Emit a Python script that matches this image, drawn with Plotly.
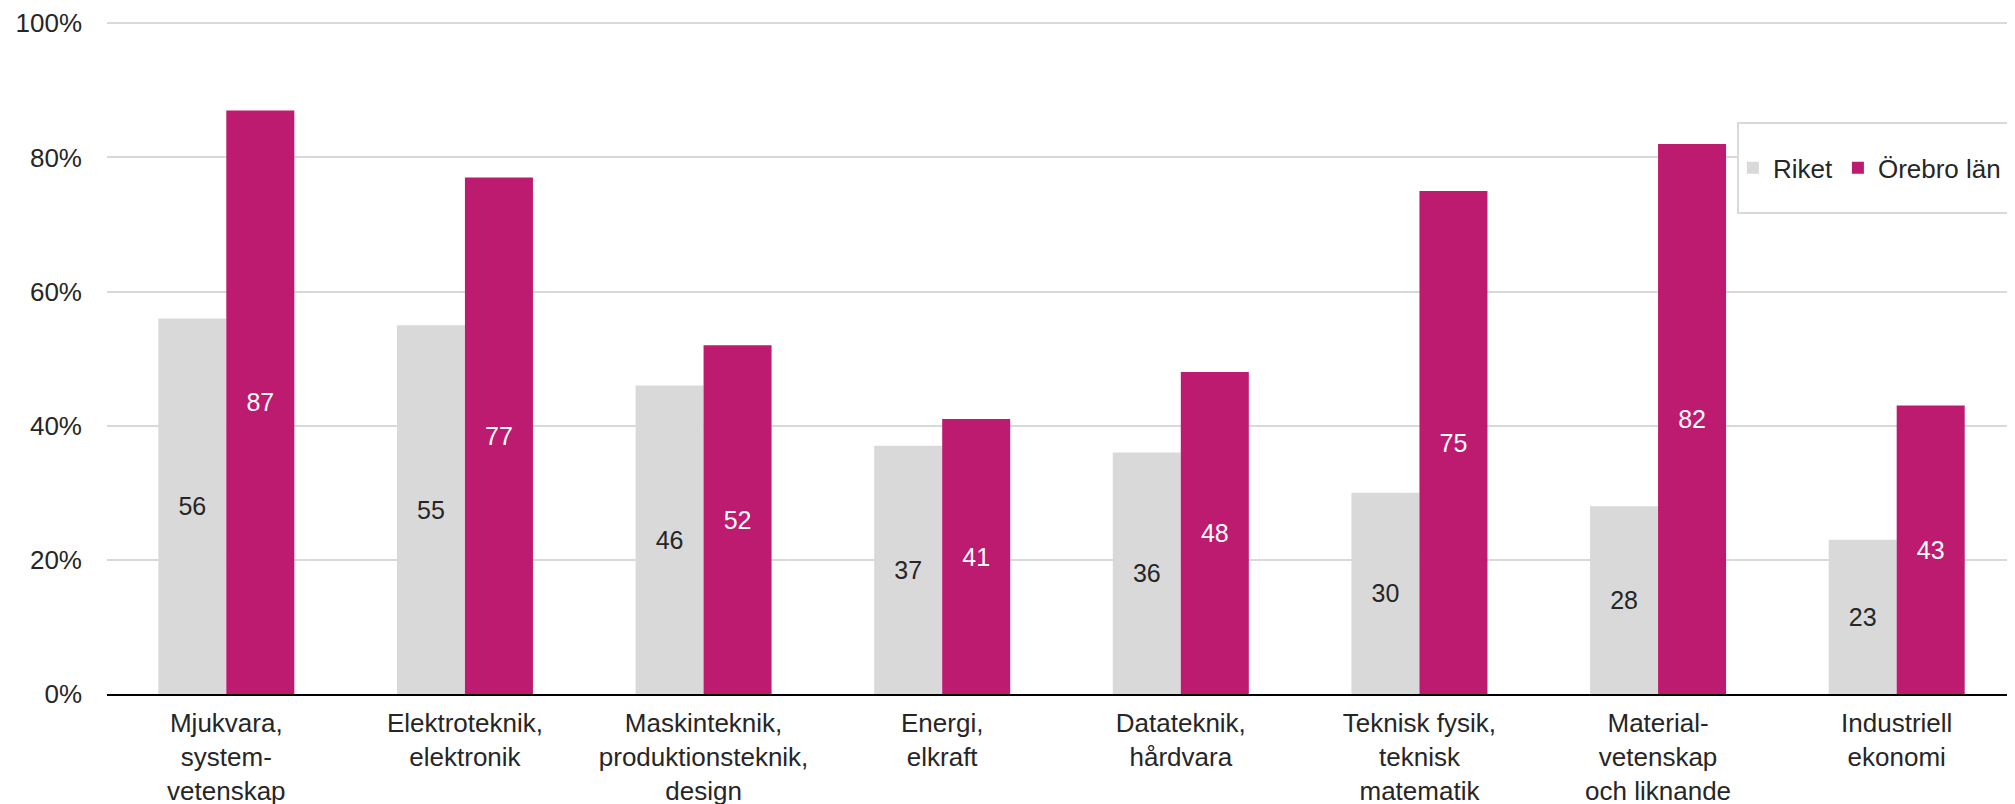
import plotly.graph_objects as go

categories = [
    "Mjukvara,<br>system-<br>vetenskap",
    "Elektroteknik,<br>elektronik",
    "Maskinteknik,<br>produktionsteknik,<br>design",
    "Energi,<br>elkraft",
    "Datateknik,<br>hårdvara",
    "Teknisk fysik,<br>teknisk<br>matematik",
    "Material-<br>vetenskap<br>och liknande",
    "Industriell<br>ekonomi",
]
riket = [56, 55, 46, 37, 36, 30, 28, 23]
orebro = [87, 77, 52, 41, 48, 75, 82, 43]
y_ticks = [0, 20, 40, 60, 80, 100]
y_ticktext = ["0%", "20%", "40%", "60%", "80%", "100%"]

FONT = "Liberation Sans, Arial, sans-serif"

fig = go.Figure()
fig.add_trace(go.Bar(
    name="Riket", x=categories, y=riket,
    marker=dict(color="#d9d9d9", line=dict(width=0)),
    text=riket, texttemplate="%{text}", textposition="inside",
    insidetextanchor="middle", textangle=0, constraintext="none",
    textfont=dict(family=FONT, size=25, color="#262626"),
    hoverinfo="skip",
))
fig.add_trace(go.Bar(
    name="Örebro län", x=categories, y=orebro,
    marker=dict(color="#bd1b6f", line=dict(width=0)),
    text=orebro, texttemplate="%{text}", textposition="inside",
    insidetextanchor="middle", textangle=0, constraintext="none",
    textfont=dict(family=FONT, size=25, color="#ffffff"),
    hoverinfo="skip",
))

# legend frame (decorative rectangle, extends past the right edge like the reference)
fig.add_shape(
    type="rect", xref="paper", yref="paper",
    x0=0.8544, x1=1.03, y0=0.7158, y1=0.8497,
    line=dict(color="#d9d9d9", width=2), fillcolor="white", layer="above",
)

fig.update_layout(
    width=2015, height=804,
    barmode="group", bargap=0.43, bargroupgap=0,
    paper_bgcolor="white", plot_bgcolor="white",
    margin=dict(l=99, r=7, t=14, b=118, autoexpand=False),
    font=dict(family=FONT, size=26, color="#262626"),
    legend=dict(
        orientation="h", x=0.8517, xanchor="left", y=0.783, yanchor="middle",
        bgcolor="rgba(0,0,0,0)", borderwidth=0,
        font=dict(family=FONT, size=26, color="#262626"),
        itemwidth=30,
    ),
    xaxis=dict(
        showline=True, linecolor="#000000", linewidth=2,
        showgrid=False, ticks="", tickfont=dict(family=FONT, size=26, color="#262626"),
        ticklabelstandoff=5,
    ),
    yaxis=dict(
        range=[0, 100.2], tickvals=y_ticks, ticktext=y_ticktext,
        showgrid=True, gridcolor="#d9d9d9", gridwidth=2,
        zeroline=False, showline=False, ticks="",
        tickfont=dict(family=FONT, size=26, color="#262626"),
        ticklabelstandoff=24,
    ),
)

fig.write_html("out.html")
